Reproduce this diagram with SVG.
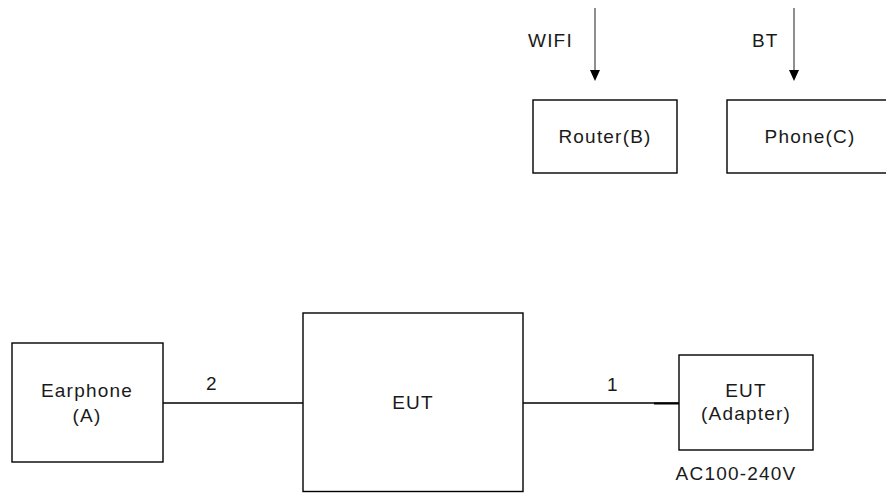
<svg xmlns="http://www.w3.org/2000/svg" width="886" height="493" viewBox="0 0 886 493">
<defs>
<style>
.box{fill:#fff;stroke:#000;stroke-width:1.4}
.t{font-family:"Liberation Sans",Arial,sans-serif;font-size:19px;letter-spacing:1.2px;fill:#1a1a1a;text-anchor:middle}
.tl{font-family:"Liberation Sans",Arial,sans-serif;font-size:19px;letter-spacing:1.2px;fill:#1a1a1a}
.wire{stroke:#000;stroke-width:1.5;fill:none}
.arr{stroke:#444;stroke-width:1.2;fill:none}
</style>
</defs>
<rect width="886" height="493" fill="#fff"/>
<g id="connectors">
<line class="arr" x1="595" y1="8" x2="595" y2="70"/>
<path d="M590,70 L600,70 L595,81 Z" fill="#000"/>
<line class="arr" x1="794" y1="8" x2="794" y2="70"/>
<path d="M789,70 L799,70 L794,81 Z" fill="#000"/>
<line class="wire" x1="163" y1="403" x2="303" y2="403"/>
<line class="wire" x1="523" y1="403" x2="679" y2="403"/>
<line stroke="#000" stroke-width="2" x1="654" y1="403.5" x2="679" y2="403.5"/>
<text class="tl" x="528" y="47">WIFI</text>
<text class="tl" x="752" y="47">BT</text>
<text class="t" x="212" y="390">2</text>
<text class="t" x="613" y="391">1</text>
</g>
<g id="router">
<rect class="box" x="533" y="100" width="144" height="73"/>
<text class="t" x="605" y="143">Router(B)</text>
</g>
<g id="phone">
<rect class="box" x="727" y="100" width="166" height="73"/>
<text class="t" x="810" y="143">Phone(C)</text>
</g>
<g id="earphone">
<rect class="box" x="12" y="343" width="151" height="119"/>
<text class="t" x="87" y="397">Earphone</text>
<text class="t" x="87" y="422">(A)</text>
</g>
<g id="eut">
<rect class="box" x="303" y="313" width="220" height="178.5"/>
<text class="t" x="413" y="409">EUT</text>
</g>
<g id="adapter">
<rect class="box" x="679" y="355" width="134" height="95"/>
<text class="t" x="746" y="397">EUT</text>
<text class="t" x="746" y="420">(Adapter)</text>
<text class="t" x="736" y="480">AC100-240V</text>
</g>
</svg>
